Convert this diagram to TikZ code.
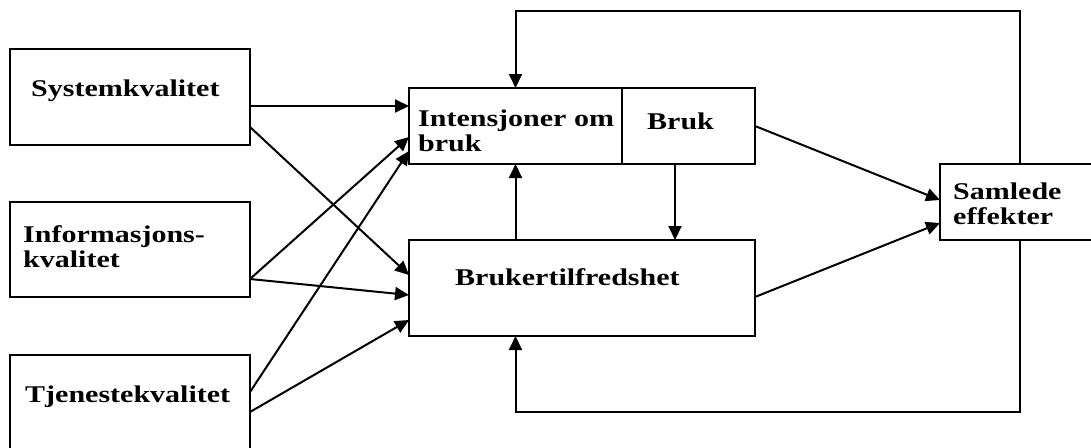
\documentclass[tikz,border=0pt]{standalone}
\usepackage{fontspec}
\setmainfont[FakeStretch=1.25]{Liberation Serif}
\usetikzlibrary{positioning, calc, arrows.meta}

\begin{document}
\begin{tikzpicture}[
  x=1pt, y=-1pt,
  font=\bfseries\fontsize{24}{25}\selectfont,
  >={Triangle[length=14pt,width=13pt]},
  box/.style={draw=black, line width=2.4pt, inner sep=0pt, outer sep=0pt},
  lbl/.style={anchor=north west, inner sep=0pt, align=left},
  arr/.style={->, line width=2pt},
]
\clip (0,0) rectangle (1091,447);

% =====================================================================
% Quality dimensions (left column)
% =====================================================================
\node[box, minimum width=240pt, minimum height=96pt] (sys)  at (130,97)    {};
\node[box, minimum width=240pt, minimum height=95pt] (info) at (130,249.5) {};
\node[box, minimum width=240pt, minimum height=100pt] (tjen) at (130,405)  {};

\node[lbl] (sysT)  at (31,80)  {Systemkvalitet};
\node[lbl] (infoT) at (23,225) {Informasjons-\\kvalitet};
\node[lbl] (tjenT) at (25,386) {Tjenestekvalitet};

% =====================================================================
% Use / satisfaction (middle) and net benefits (right)
% =====================================================================
\node[box, minimum width=213pt, minimum height=76pt] (intens) at (515.5,126) {};
\node[box, minimum width=133pt, minimum height=76pt] (bruk)   at (688.5,126) {};
\node[box, minimum width=346pt, minimum height=96pt] (tilfr)  at (582,288)   {};
\node[box, minimum width=160pt, minimum height=76pt] (samlet) at (1020,202)  {};

\node[lbl] (intensT) at (418,110) {Intensjoner om\\bruk};
\node[lbl] (brukT)   at (647,113) {Bruk};
\node[lbl] (tilfrT)  at (455,268) {Brukertilfredshet};
\node[lbl] (samletT) at (953,183) {Samlede\\effekter};

% =====================================================================
% Arrows from the quality boxes
% =====================================================================
\draw[arr] ([yshift=-9pt]sys.east)   -- ([yshift=20pt]intens.west);
\draw[arr] ([yshift=-30pt]sys.east)  -- ([yshift=13pt]tilfr.west);
\draw[arr] ([yshift=-29.5pt]info.east) -- ([yshift=-11pt]intens.west);
\draw[arr] ([yshift=-29.5pt]info.east) -- ([yshift=-7pt]tilfr.west);
\draw[arr] ([yshift=13pt]tjen.east)  -- ([yshift=-25pt]intens.west);
\draw[arr] ([yshift=-7pt]tjen.east)  -- ([yshift=-32pt]tilfr.west);

% Between use and satisfaction
\draw[arr] (tilfr.north -| intens.south) -- (intens.south);
\draw[arr] ([xshift=-13.5pt]bruk.south) -- ([xshift=-13.5pt]bruk.south |- tilfr.north);

% Into net benefits
\draw[arr] (bruk.east) -- ([yshift=2pt]samlet.west);
\draw[arr] ([yshift=-9pt]tilfr.east) -- ([yshift=-21pt]samlet.west);

% Feedback loops
\coordinate (loopTop) at (1020,11);
\coordinate (loopBot) at (1020,412);
\draw[arr] (samlet.north -| loopTop) -- (loopTop) -| (intens.north);
\draw[arr] (samlet.south -| loopBot) -- (loopBot) -| (tilfr.south -| intens.south);

\end{tikzpicture}
\end{document}
